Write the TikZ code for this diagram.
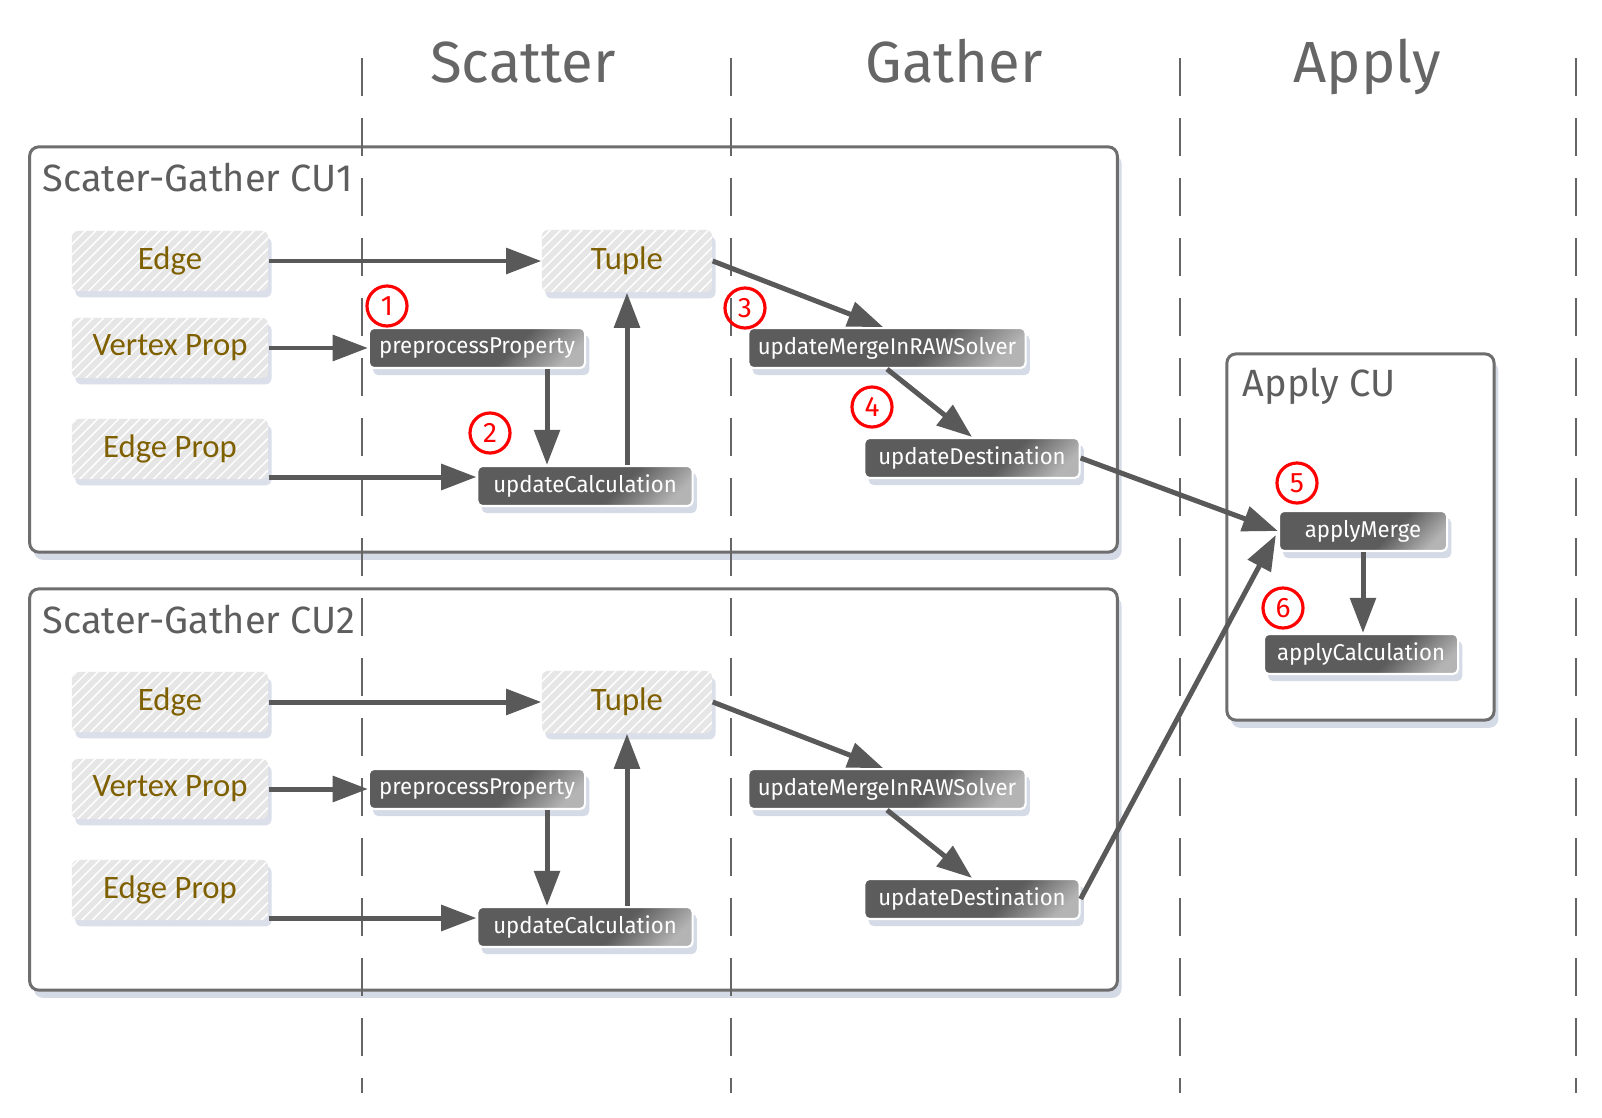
\documentclass[tikz,border=0pt]{standalone}
\usepackage{fontspec}
\setmainfont{Fira Sans}
\newfontfamily\calib{Carlito}
\newfontfamily\narrowf[FakeStretch=0.97]{Fira Sans}
\usetikzlibrary{arrows.meta,shadows,patterns,calc}
\definecolor{arrowgray}{HTML}{595959}
\definecolor{boxgray}{HTML}{6E6E6E}
\definecolor{headgray}{HTML}{666666}
\definecolor{titlegray}{HTML}{5E5E5E}
\definecolor{goldtxt}{HTML}{7F6000}
\definecolor{shadowblue}{HTML}{C3CBDC}
\definecolor{hatchbg}{HTML}{E6E6E6}
\definecolor{darkfill}{HTML}{5C5C5C}
\definecolor{lightfill}{HTML}{B4B4B4}
\pgfdeclarehorizontalshading{darkgrad}{100bp}{color(0bp)=(darkfill); color(60bp)=(darkfill); color(78bp)=(lightfill); color(100bp)=(lightfill)}
\begin{document}
\begin{tikzpicture}[x=0.01cm,y=-0.01cm,
  head/.style={anchor=base, text=headgray, font=\fontsize{16.5}{18}\selectfont, inner sep=0pt},
  cutitle/.style={anchor=base west, text=titlegray, font=\fontsize{10.8}{12}\selectfont, inner sep=0pt},
  cubox/.style={draw=boxgray, line width=0.85pt, rounded corners=0.09cm, fill=white,
    drop shadow={shadow xshift=1.2pt, shadow yshift=-2.2pt, fill=shadowblue, opacity=0.7}},
  inbox/.style={rounded corners=0.06cm, fill=hatchbg,
    postaction={pattern=north east lines, pattern color=white},
    text=goldtxt, font=\calib\fontsize{9.3}{10}\selectfont,
    minimum width=1.96cm, minimum height=0.6cm, inner sep=0pt,
    drop shadow={shadow xshift=1pt, shadow yshift=-1.8pt, fill=shadowblue, opacity=0.6}},
  darknode/.style={rounded corners=0.05cm, draw=white, line width=0.6pt,
    shading=darkgrad, shading angle=-45,
    text=white, font=\narrowf\fontsize{6.5}{7.5}\selectfont,
    minimum height=0.4cm, inner sep=0pt,
    drop shadow={shadow xshift=1.2pt, shadow yshift=-2pt, fill=shadowblue, opacity=0.7}},
  numc/.style={circle, draw=red, line width=0.9pt, text=red, minimum size=0.4cm,
    inner sep=0pt, font=\fontsize{8}{9}\selectfont},
  vdash/.style={draw=headgray, line width=0.7pt, dash pattern=on 10.8pt off 6.26pt},
  arr/.style={draw=arrowgray, line width=1.42pt, -{Triangle[length=10pt,width=7.2pt]}}
]
\useasboundingbox (0,0) rectangle (1602,1118);
\fill[white] (0,0) rectangle (1602,1118);

% column headers
\node[head] (hs) at (523,83) {Scatter};
\node[head] (hg) at (954,83) {Gather};
\node[head] (ha) at (1367,83) {Apply};

% computing-unit boxes
\node[cubox, minimum width=10.87cm, minimum height=4.05cm] (cu1) at (573.5,349.5) {};
\node[cubox, minimum width=10.87cm, minimum height=4.01cm] (cu2) at (573.5,789.5) {};
\node[cubox, minimum width=2.67cm, minimum height=3.66cm] (acu) at (1360.5,537) {};
\node[cutitle] (t1) at (42,192) {Scater-Gather CU1};
\node[cutitle] (t2) at (42,633) {Scater-Gather CU2};
\node[cutitle] (t3) at (1242,396) {Apply CU};

% dashed phase separators
\foreach \n/\x in {1/362,2/731,3/1180,4/1576}{
  \coordinate (dt\n) at (\x,58);
  \coordinate (db\n) at (\x,1093);
  \draw[vdash] (dt\n) -- (db\n);
}

% the two scatter-gather units
\foreach \k/\dy in {1/0,2/441}{
  \node[inbox] (e\k) at (170,{261+\dy}) {Edge};
  \node[inbox] (vp\k) at (170,{348+\dy}) {Vertex Prop};
  \node[inbox] (ep\k) at (170,{449+\dy}) {Edge Prop};
  \node[inbox, minimum width=1.7cm, minimum height=0.62cm] (tu\k) at (627,{261+\dy}) {Tuple};
  \node[darknode, minimum width=2.16cm] (pp\k) at (477,{348+\dy}) {preprocessProperty};
  \node[darknode, minimum width=2.15cm] (uc\k) at (585,{486+\dy}) {updateCalculation};
  \node[darknode, minimum width=2.77cm] (umr\k) at (887,{348+\dy}) {updateMergeInRAWSolver};
  \node[darknode, minimum width=2.15cm] (ud\k) at (972,{458+\dy}) {updateDestination};
  \draw[arr] (e\k) -- (tu\k);
  \draw[arr] (vp\k) -- (pp\k);
  \draw[arr] ($(ep\k.east)+(0,28)$) -- ($(uc\k.west)+(0,-9)$);
  \draw[arr] ($(pp\k.south)+(70,0)$) -- ($(uc\k.north)+(-38,0)$);
  \draw[arr] ($(uc\k.north)+(42,0)$) -- (tu\k.south);
  \draw[arr] (tu\k.east) -- ($(umr\k.north)+(-4,0)$);
  \draw[arr] (umr\k.south) -- (ud\k.north);
}

% apply unit
\node[darknode, minimum width=1.68cm] (am) at (1363,531) {applyMerge};
\node[darknode, minimum width=1.94cm] (ac) at (1361,654) {applyCalculation};
\draw[arr] (ud1.east) -- (am.west);
\draw[arr] (ud2.east) -- ($(am.west)+(-2,4)$);
\draw[arr] (am.south) -- (am.south |- ac.north);

% step numbers
\node[numc] (n1) at (387,306) {1};
\node[numc] (n2) at (490,433) {2};
\node[numc] (n3) at (745,308) {3};
\node[numc] (n4) at (872,407) {4};
\node[numc] (n5) at (1297,483) {5};
\node[numc] (n6) at (1283,608) {6};
\end{tikzpicture}
\end{document}
